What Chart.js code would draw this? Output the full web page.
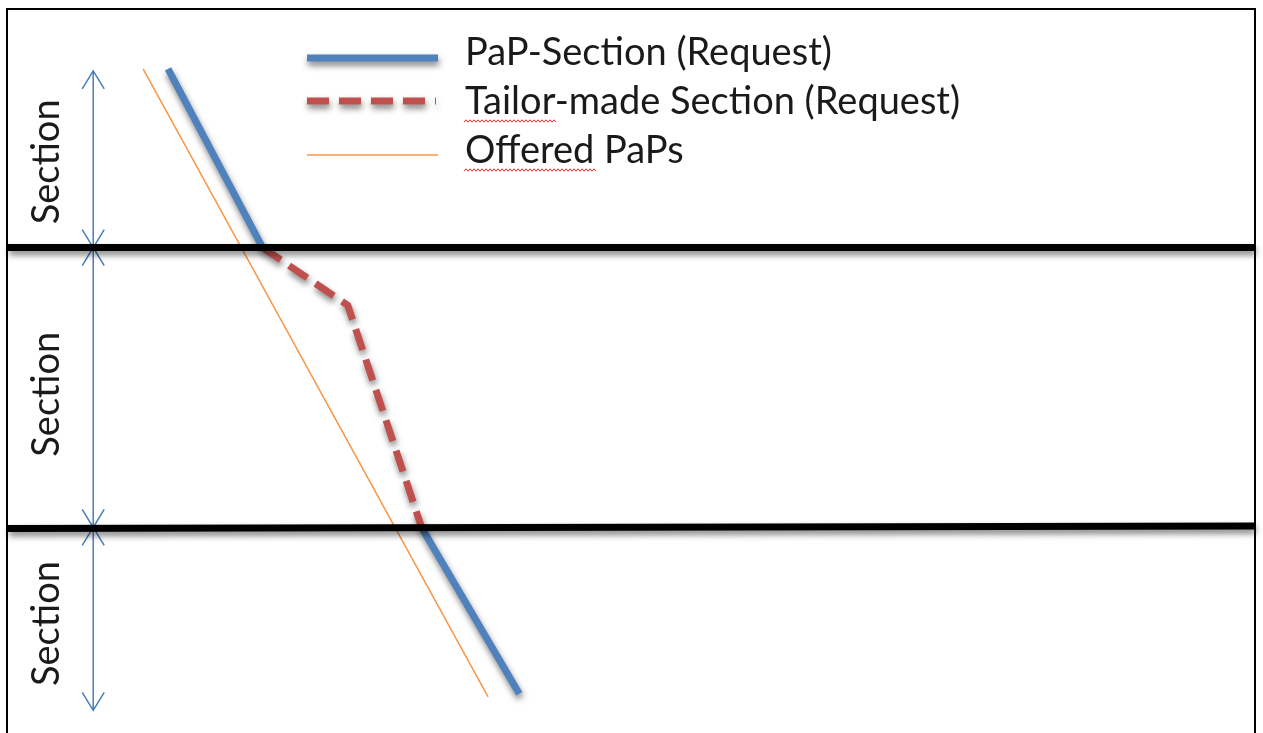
<!DOCTYPE html>
<html lang="en">
<head>
    <meta charset="UTF-8">
    <title>PaP sections</title>
    <script src="https://cdn.jsdelivr.net/npm/chart.js"></script>
    <style>
        html, body { margin: 0; padding: 0; background: #fff; }
        #quadro { position: absolute; left: 0; top: 0; }
    </style>
</head>
<body>
    <canvas id="quadro" width="1263" height="733"></canvas>

<script>
    // time (x) in minutes, position (y) in km from the top of the diagram
    const papTopTime = [15.4, 24.5];
    const papTopPos = [5.7, 23.0];
    const tailorTime = [24.5, 32.7, 39.8];
    const tailorPos = [23.0, 28.6, 50.1];
    const papBottomTime = [39.8, 49.2];
    const papBottomPos = [50.1, 66.2];
    const offeredTime = [13.0, 46.2];
    const offeredPos = [5.7, 66.5];

    // section borders (left and right end of each line)
    const borderTime = [0, 120];
    const border1Pos = [23.0, 23.0];
    const border2Pos = [50.2, 49.95];

    // section arrows
    const arrowTime = 8.2;
    const sectionEnds = [5.9, 23.0, 50.1, 67.8];
    const sectionLabelPos = [14.7, 37.2, 59.4];
    const sectionLabel = 'Section';

    const legendNames = ['PaP-Section (Request)', 'Tailor-made Section (Request)', 'Offered PaPs'];

    function pontos(xs, ys) {
        return xs.map((x, i) => ({ x: x, y: ys[i] }));
    }

    const azul = '#4f81bd';
    const vermelho = '#c0504d';
    const laranja = '#f79646';

    const datasets = [
        { label: 'border', data: pontos(borderTime, border1Pos), borderColor: '#000', borderWidth: 7, sombra: true },
        { label: 'border', data: pontos(borderTime, border2Pos), borderColor: '#000', borderWidth: 7, sombra: true },
        { label: legendNames[2], data: pontos(offeredTime, offeredPos), borderColor: laranja, borderWidth: 1.5 },
        { label: legendNames[0], data: pontos(papTopTime, papTopPos), borderColor: azul, borderWidth: 7, sombra: true },
        { label: legendNames[1], data: pontos(tailorTime, tailorPos), borderColor: vermelho, borderWidth: 7, borderDash: [22, 10], sombra: true },
        { label: legendNames[0], data: pontos(papBottomTime, papBottomPos), borderColor: azul, borderWidth: 7, sombra: true }
    ];
    datasets.forEach(d => {
        d.pointRadius = 0;
        d.tension = 0;
        d.fill = false;
        d.borderCapStyle = 'butt';
        d.clip = 20;
    });

    function sombra(ctx) {
        ctx.shadowColor = 'rgba(0,0,0,0.5)';
        ctx.shadowBlur = 6;
        ctx.shadowOffsetX = 1;
        ctx.shadowOffsetY = 4;
    }

    const sombraPlugin = {
        id: 'sombra',
        beforeDatasetDraw(chart, args) {
            chart.ctx.save();
            if (chart.data.datasets[args.index].sombra) sombra(chart.ctx);
        },
        afterDatasetDraw(chart) {
            chart.ctx.restore();
        }
    };

    // frame, arrows, "Section" labels and legend
    const desenhoPlugin = {
        id: 'desenho',
        beforeDatasetsDraw(chart) {
            const ctx = chart.ctx;
            const xs = chart.scales.x, ys = chart.scales.y;
            ctx.save();
            ctx.strokeStyle = '#000';
            ctx.lineWidth = 2;
            ctx.beginPath();
            ctx.moveTo(7, 760);
            ctx.lineTo(7, 9);
            ctx.lineTo(1255, 9);
            ctx.lineTo(1255, 760);
            ctx.stroke();

            const ax = xs.getPixelForValue(arrowTime);
            ctx.strokeStyle = '#4a7ebb';
            ctx.lineWidth = 1.5;
            for (let i = 0; i < sectionEnds.length - 1; i++) {
                const y0 = ys.getPixelForValue(sectionEnds[i]);
                const y1 = ys.getPixelForValue(sectionEnds[i + 1]);
                ctx.beginPath();
                ctx.moveTo(ax, y0);
                ctx.lineTo(ax, y1);
                ctx.moveTo(ax - 11, y0 + 18);
                ctx.lineTo(ax, y0);
                ctx.lineTo(ax + 11, y0 + 18);
                ctx.moveTo(ax - 11, y1 - 18);
                ctx.lineTo(ax, y1);
                ctx.lineTo(ax + 11, y1 - 18);
                ctx.stroke();
            }

            ctx.fillStyle = '#1a1a1a';
            ctx.font = '38px Lato';
            ctx.textAlign = 'center';
            ctx.textBaseline = 'middle';
            sectionLabelPos.forEach(p => {
                ctx.save();
                ctx.translate(47, ys.getPixelForValue(p));
                ctx.rotate(-Math.PI / 2);
                ctx.fillText(sectionLabel, 0, 0);
                ctx.restore();
            });
            ctx.restore();
        },
        afterDraw(chart) {
            const ctx = chart.ctx;
            const vistos = [];
            const itens = chart.data.datasets.filter(d => {
                if (d.label === 'border' || vistos.includes(d.label)) return false;
                vistos.push(d.label);
                return true;
            });
            itens.sort((a, b) => legendNames.indexOf(a.label) - legendNames.indexOf(b.label));
            const linhas = [58, 101, 155];
            const bases = [65, 114, 163];
            ctx.save();
            itens.forEach((d, i) => {
                ctx.save();
                if (d.sombra) sombra(ctx);
                ctx.strokeStyle = d.borderColor;
                ctx.lineWidth = d.borderWidth;
                ctx.setLineDash(d.borderDash || []);
                ctx.beginPath();
                ctx.moveTo(307, linhas[i]);
                ctx.lineTo(i === 1 ? 436 : 438, linhas[i]);
                ctx.stroke();
                ctx.restore();
                ctx.fillStyle = '#1a1a1a';
                ctx.font = '38px Lato';
                ctx.textAlign = 'left';
                ctx.textBaseline = 'alphabetic';
                ctx.fillText(d.label, 465, bases[i]);
            });
            // spell-check squiggles
            ctx.strokeStyle = '#e03030';
            ctx.lineWidth = 1;
            [[464, 556, 121], [464, 596, 170]].forEach(s => {
                ctx.beginPath();
                for (let x = s[0], k = 0; x <= s[1]; x += 2, k++) {
                    const y = s[2] + (k % 2 ? -1.2 : 1.2);
                    if (k === 0) ctx.moveTo(x, y); else ctx.lineTo(x, y);
                }
                ctx.stroke();
            });
            ctx.restore();
        }
    };

    new Chart(document.getElementById('quadro'), {
        type: 'line',
        data: { datasets: datasets },
        options: {
            responsive: false,
            animation: false,
            events: [],
            layout: { padding: { left: 8, right: 8, top: 10, bottom: 0 } },
            scales: {
                x: { type: 'linear', min: 0, max: 120, display: false },
                y: { type: 'linear', min: 0, max: 70, reverse: true, display: false }
            },
            plugins: {
                legend: { display: false },
                tooltip: { enabled: false }
            }
        },
        plugins: [sombraPlugin, desenhoPlugin]
    });
</script>
</body>
</html>
